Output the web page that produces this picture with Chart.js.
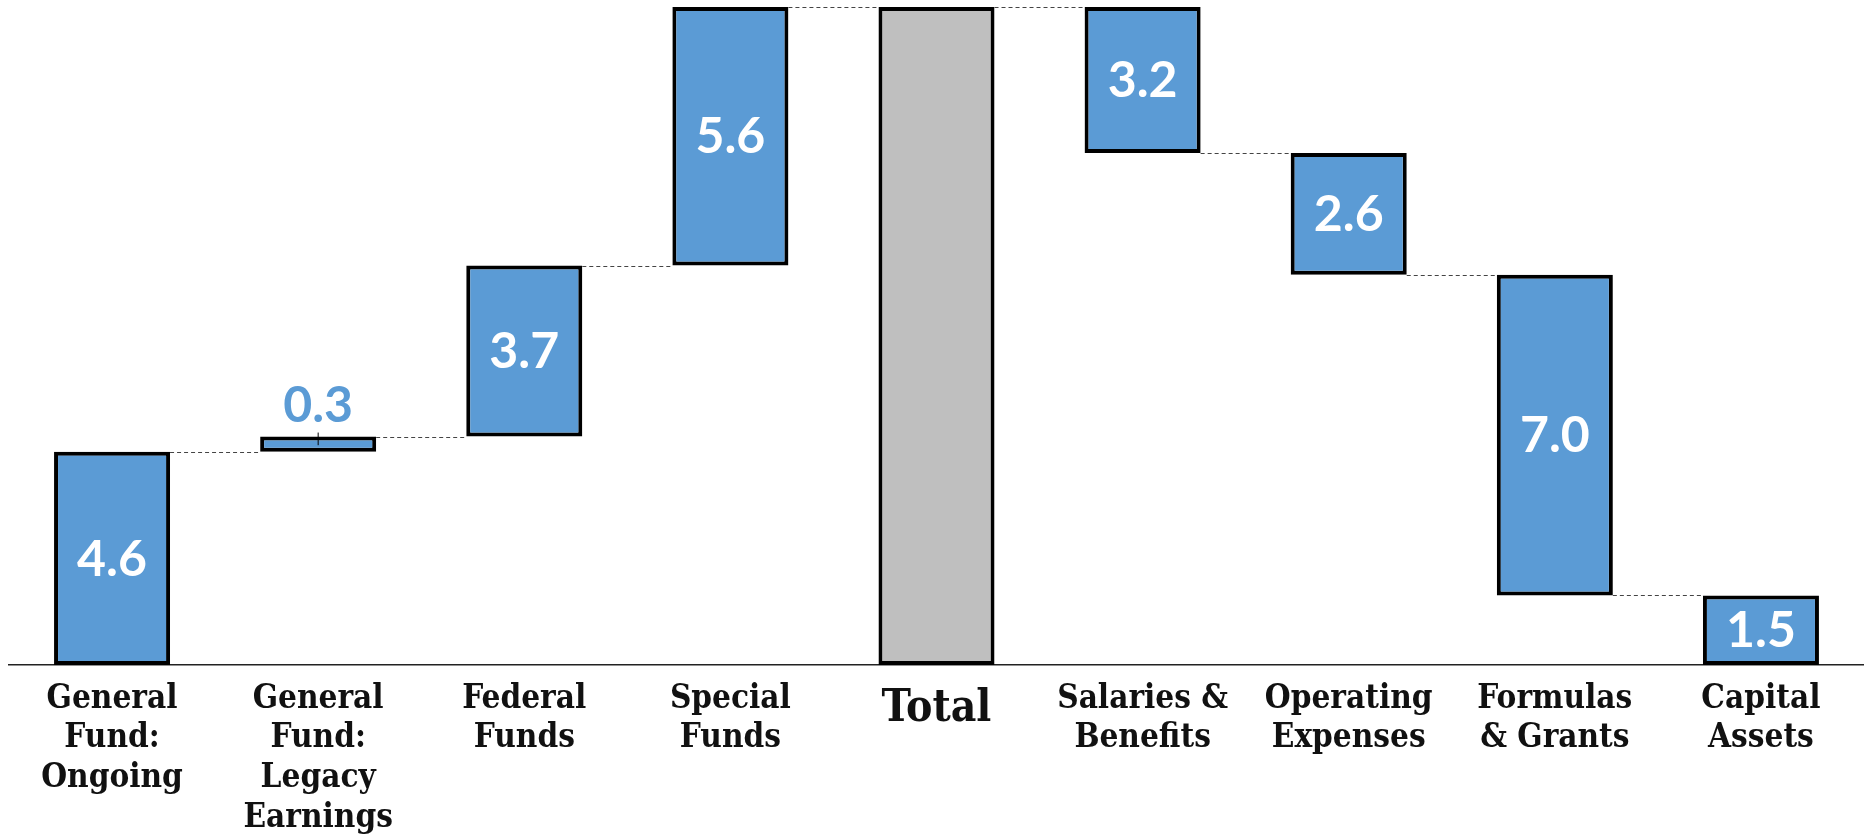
<!DOCTYPE html>
<html>
<head>
<meta charset="utf-8">
<title>Budget waterfall</title>
<script src="https://cdn.jsdelivr.net/npm/chart.js@4"></script>
<style>
  html, body { margin: 0; padding: 0; background: #fff; }
  #wrap { width: 1864px; height: 838px; position: relative; }
</style>
</head>
<body>
<div id="wrap"><canvas id="chart"></canvas></div>
<script>
// Categories (multi-line tick labels)
const categories = [
  ['General', 'Fund:', 'Ongoing'],
  ['General', 'Fund:', 'Legacy', 'Earnings'],
  ['Federal', 'Funds'],
  ['Special', 'Funds'],
  ['Total'],
  ['Salaries &', 'Benefits'],
  ['Operating', 'Expenses'],
  ['Formulas', '& Grants'],
  ['Capital', 'Assets']
];

// Floating bar ends (billions)
const barLow  = [0,   4.6, 4.93, 8.62, 0,    11.05, 8.42, 1.5, 0];
const barHigh = [4.6, 4.93, 8.62, 14.2, 14.2, 14.2, 11.05, 8.42, 1.5];

// Printed value labels
const valueLabels = ['4.6', '0.3', '3.7', '5.6', '', '3.2', '2.6', '7.0', '1.5'];

const TOTAL_INDEX = 4;
const BLUE = '#5B9BD5';
const GREY = '#BFBFBF';
const LABEL_FONT = "'DejaVu Serif Condensed', 'DejaVu Serif', serif";

/**
 * Shared endpoint of two neighbouring bars (where the connector sits)
 */
function sharedLevel(i) {
  const a = [barLow[i], barHigh[i]];
  const b = [barLow[i + 1], barHigh[i + 1]];
  for (const v of a) {
    if (b.some(w => Math.abs(w - v) < 1e-6)) return v;
  }
  return barHigh[i];
}

// Dashed connectors + value labels
const waterfallDecor = {
  id: 'waterfallDecor',
  afterDatasetsDraw(chart) {
    const { ctx } = chart;
    const meta = chart.getDatasetMeta(0);
    const y = chart.scales.y;

    // connectors
    ctx.save();
    ctx.strokeStyle = '#444';
    ctx.lineWidth = 1;
    ctx.setLineDash([4, 3]);
    for (let i = 0; i < meta.data.length - 1; i++) {
      const a = meta.data[i];
      const b = meta.data[i + 1];
      const py = Math.round(y.getPixelForValue(sharedLevel(i))) + 0.5;
      ctx.beginPath();
      ctx.moveTo(a.x + a.width / 2, py);
      ctx.lineTo(b.x - b.width / 2, py);
      ctx.stroke();
    }
    ctx.restore();

    // value labels
    ctx.save();
    ctx.font = "bold 50px Lato, 'Noto Sans', sans-serif";
    ctx.textAlign = 'center';
    meta.data.forEach((bar, i) => {
      const text = valueLabels[i];
      if (!text) return;
      const top = Math.min(bar.y, bar.base);
      const bottom = Math.max(bar.y, bar.base);
      if (bottom - top < 60) {
        // too thin: label above in blue, with the little tick mark
        ctx.fillStyle = BLUE;
        ctx.textBaseline = 'alphabetic';
        ctx.fillText(text, bar.x, top - 15);
        ctx.strokeStyle = '#000';
        ctx.lineWidth = 1;
        ctx.beginPath();
        ctx.moveTo(bar.x, top - 4);
        ctx.lineTo(bar.x, (top + bottom) / 2 + 1);
        ctx.stroke();
      } else {
        ctx.fillStyle = '#fff';
        ctx.textBaseline = 'middle';
        ctx.fillText(text, bar.x, (top + bottom) / 2 + 1);
      }
    });
    ctx.restore();
  }
};

const chartCanvas = document.getElementById('chart');

new Chart(chartCanvas, {
  type: 'bar',
  data: {
    labels: categories,
    datasets: [{
      data: barLow.map((lo, i) => [lo, barHigh[i]]),
      backgroundColor: categories.map((c, i) => i === TOTAL_INDEX ? GREY : BLUE),
      borderColor: '#000',
      borderWidth: 4,
      borderSkipped: false,
      barPercentage: 0.563,
      categoryPercentage: 1.0
    }]
  },
  options: {
    responsive: true,
    maintainAspectRatio: false,
    animation: false,
    layout: { padding: { top: 7, left: 9, right: 0, bottom: 0 } },
    plugins: {
      legend: { display: false },
      tooltip: { enabled: false }
    },
    scales: {
      x: {
        grid: { display: false, drawTicks: false },
        border: { display: true, color: '#222', width: 1.5 },
        ticks: {
          color: '#111',
          padding: 14,
          maxRotation: 0,
          autoSkip: false,
          font: (ctx) => ({
            family: LABEL_FONT,
            weight: 'bold',
            size: ctx.index === TOTAL_INDEX ? 44 : 33,
            lineHeight: ctx.index === TOTAL_INDEX ? 1.41 : 1.21
          })
        },
        afterFit(scale) {
          scale.height = 173;
        }
      },
      y: {
        display: false,
        min: 0,
        max: 14.2
      }
    }
  },
  plugins: [waterfallDecor]
});
</script>
</body>
</html>
